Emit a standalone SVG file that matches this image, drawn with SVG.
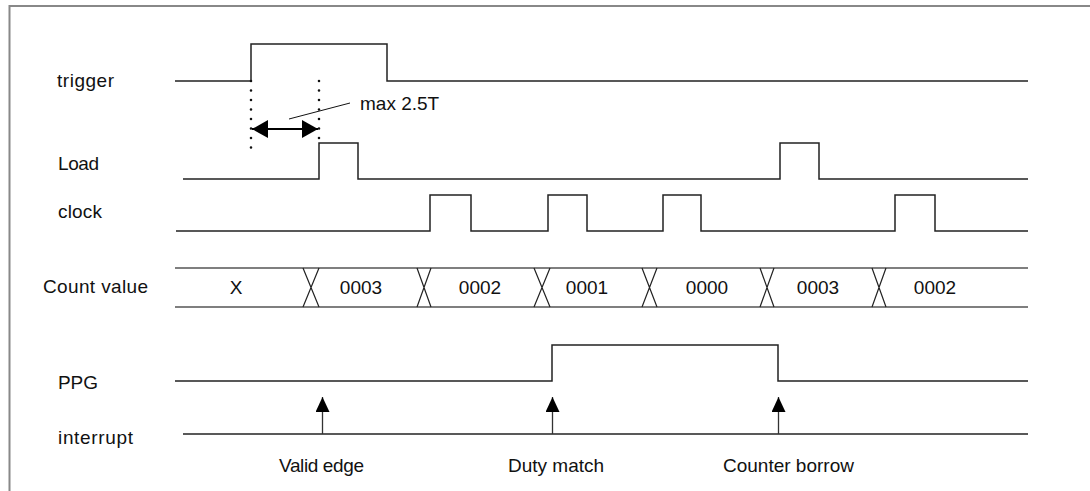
<svg xmlns="http://www.w3.org/2000/svg" width="1090" height="491" viewBox="0 0 1090 491">
<style>
text{font-family:"Liberation Sans",Arial,sans-serif;font-size:19px;fill:#111}
.sig{fill:none;stroke:#222;stroke-width:1.5}
.bus{fill:none;stroke:#555;stroke-width:1.6}
.x{fill:none;stroke:#222;stroke-width:1.2}
.dot{fill:none;stroke:#111;stroke-width:2.6;stroke-linecap:round;stroke-dasharray:0 9.5}
.mid{text-anchor:middle}
</style>
<defs>
<marker id="ah" viewBox="0 0 16 18" refX="16" refY="9" markerWidth="16" markerHeight="18" markerUnits="userSpaceOnUse" orient="auto-start-reverse">
<path d="M0,0 L16,9 L0,18 Z" fill="#000"/>
</marker>
<marker id="up" viewBox="0 0 15 14" refX="15" refY="7" markerWidth="15" markerHeight="14" markerUnits="userSpaceOnUse" orient="auto">
<path d="M0,0 L15,7 L0,14 Z" fill="#000"/>
</marker>
</defs>
<rect width="1090" height="491" fill="#fff"/>
<path d="M9.5,491 V6 H1090" fill="none" stroke="#888" stroke-width="2"/>

<g id="trigger">
<text x="57" y="87" textLength="57">trigger</text>
<path class="sig" d="M175,81 H251 V44 H387 V81 H1028"/>
</g>
<g id="load">
<text x="58" y="170" textLength="41">Load</text>
<path class="sig" d="M183,179 H319 V143 H358 V179 H780 V143 H819 V179 H1028"/>
</g>
<g id="clock">
<text x="58" y="218" textLength="44">clock</text>
<path class="sig" d="M176,231 H430 V195 H471 V231 H548 V195 H587 V231 H663 V195 H701 V231 H895 V195 H935 V231 H1028"/>
</g>
<g id="count">
<text x="43" y="293" textLength="105">Count value</text>
<path class="bus" d="M175,268 H1028 M175,307 H1028"/>
<path class="x" d="M303,268 L319,307 M319,268 L303,307 M417,268 L431,307 M431,268 L417,307 M534,268 L550,307 M550,268 L534,307 M642,268 L657,307 M657,268 L642,307 M760,268 L774,307 M774,268 L760,307 M872,268 L886,307 M886,268 L872,307"/>
<text class="mid" x="236" y="294">X</text>
<text class="mid" x="361" y="294">0003</text>
<text class="mid" x="480" y="294">0002</text>
<text class="mid" x="587" y="294">0001</text>
<text class="mid" x="707" y="294">0000</text>
<text class="mid" x="818" y="294">0003</text>
<text class="mid" x="935" y="294">0002</text>
</g>
<g id="ppg">
<text x="58" y="389" textLength="40">PPG</text>
<path class="sig" d="M175,381 H552 V345 H778 V381 H1028"/>
</g>
<g id="interrupt">
<text x="58" y="444" textLength="75">interrupt</text>
<path class="sig" d="M183,434 H1028"/>
</g>
<g id="timing-note">
<path class="dot" d="M251,81 V149"/>
<path class="dot" d="M319,81 V140"/>
<path d="M289,119 L350,103" fill="none" stroke="#111" stroke-width="1"/>
<text x="360" y="110">max 2.5T</text>
</g>
<g id="connectors">
<path d="M252,129 H318" fill="none" stroke="#000" stroke-width="2.2" marker-start="url(#ah)" marker-end="url(#ah)"/>
<path d="M322.5,434 V397" fill="none" stroke="#333" stroke-width="1.3" marker-end="url(#up)"/>
<path d="M552.5,434 V397" fill="none" stroke="#333" stroke-width="1.3" marker-end="url(#up)"/>
<path d="M778.5,434 V397" fill="none" stroke="#333" stroke-width="1.3" marker-end="url(#up)"/>
</g>
<g id="events">
<text x="279" y="472" textLength="85">Valid edge</text>
<text x="508" y="472">Duty match</text>
<text x="723" y="472">Counter borrow</text>
</g>
</svg>
